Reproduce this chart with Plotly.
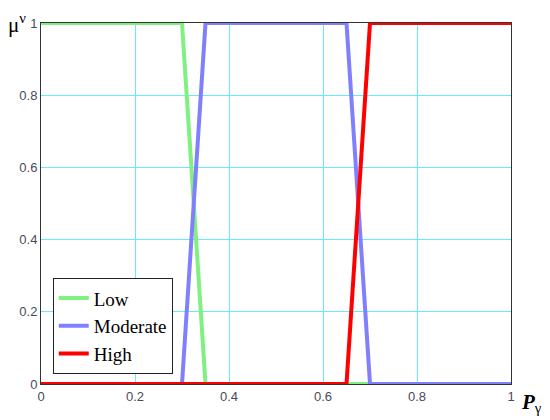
import plotly.graph_objects as go

# Breakpoints of the membership functions
p_low = [0.0, 0.3, 0.35, 1.0]
mu_low = [1, 1, 0, 0]

p_moderate = [0.0, 0.3, 0.35, 0.65, 0.7, 1.0]
mu_moderate = [0, 0, 1, 1, 0, 0]

p_high = [0.0, 0.65, 0.7, 1.0]
mu_high = [0, 0, 1, 1]

series_names = ["Low", "Moderate", "High"]
series_colors = ["rgb(128,240,128)", "rgb(128,128,255)", "rgb(255,0,0)"]

tick_vals = [0, 0.2, 0.4, 0.6, 0.8, 1]
tick_text = ["0", "0.2", "0.4", "0.6", "0.8", "1"]

fig = go.Figure()
for xs, ys, name, col in zip([p_low, p_moderate, p_high],
                             [mu_low, mu_moderate, mu_high],
                             series_names, series_colors):
    fig.add_trace(go.Scatter(x=xs, y=ys, mode="lines", name=name,
                             line=dict(color=col, width=4),
                             cliponaxis=False))

axis_common = dict(
    range=[0, 1], tickvals=tick_vals, ticktext=tick_text,
    showgrid=True, gridcolor="rgb(100,235,255)", gridwidth=1,
    zeroline=False, showline=True, linecolor="#333333", linewidth=1,
    mirror=True, ticks="",
    tickfont=dict(family="Liberation Sans, Arial", size=13, color="#4a4a58"),
)

fig.update_layout(
    width=542, height=412,
    margin=dict(l=33, r=39, t=8, b=36),
    paper_bgcolor="white", plot_bgcolor="white",
    xaxis=dict(**axis_common),
    yaxis=dict(**axis_common),
    showlegend=True,
    legend=dict(x=0.025, y=0.027, xanchor="left", yanchor="bottom",
                bgcolor="white", bordercolor="#222222", borderwidth=1,
                font=dict(family="Liberation Serif, Times New Roman", size=19, color="black"),
                tracegroupgap=0, itemwidth=30),
    annotations=[
        dict(text="μ<sup>ν</sup>", xref="paper", yref="paper", x=-0.074, y=1.0,
             xanchor="left", yanchor="middle", showarrow=False,
             font=dict(family="Liberation Serif, Times New Roman", size=21, color="black")),
        dict(text="<b><i>P</i></b><sub>γ</sub>", xref="paper", yref="paper", x=1.018, y=-0.01,
             xanchor="left", yanchor="top", showarrow=False,
             font=dict(family="Liberation Serif, Times New Roman", size=21, color="black")),
    ],
)

fig.write_html("out.html")
